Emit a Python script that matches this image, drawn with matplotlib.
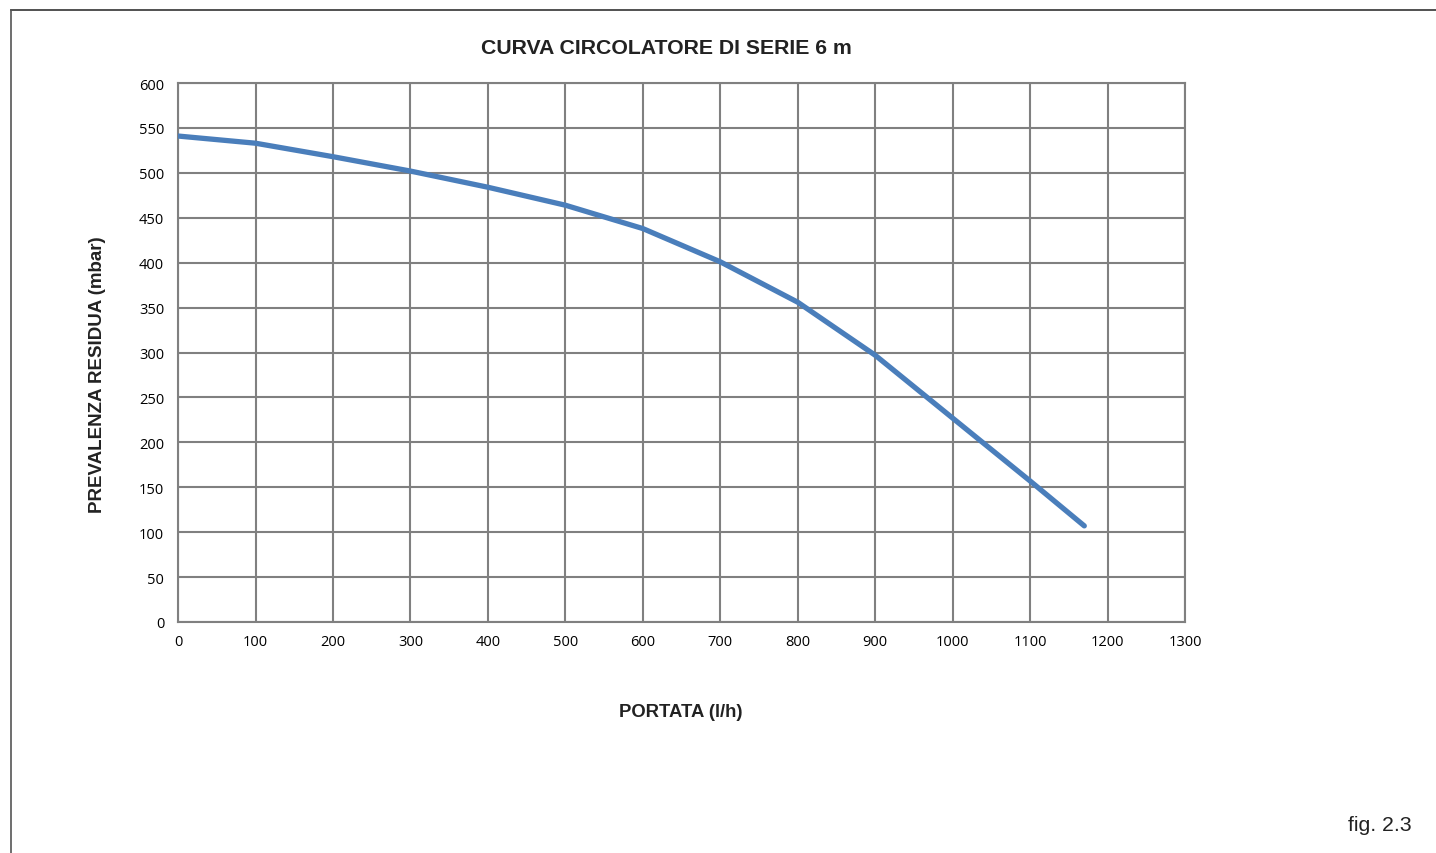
import matplotlib
matplotlib.use('Agg')
import matplotlib.pyplot as plt
from matplotlib.lines import Line2D

portata = [0, 100, 200, 300, 400, 500, 600, 700, 800, 900, 1000, 1100, 1170]
prevalenza = [541, 533, 518, 502, 484, 464, 438, 401, 356, 297, 227, 157, 107]

x_ticks = list(range(0, 1301, 100))
y_ticks = list(range(0, 601, 50))

fig = plt.figure(figsize=(14.36, 8.54), dpi=100)
ax = fig.add_axes([0.124, 0.2705, 0.7012, 0.6311])

grid_col = '#808080'
ax.plot(portata, prevalenza, color='#4a7ebb', linewidth=3.8, solid_capstyle='round', zorder=3)

ax.set_xlim(0, 1300)
ax.set_ylim(0, 600)
ax.set_xticks(x_ticks)
ax.set_yticks(y_ticks)
ax.grid(True, color=grid_col, linewidth=1.5)
for s in ax.spines.values():
    s.set_color(grid_col)
    s.set_linewidth(1.5)
ax.tick_params(length=0, labelsize=10.5, colors='black')
ax.tick_params(axis='y', pad=10)
ax.tick_params(axis='x', pad=9)
for lab in ax.get_xticklabels() + ax.get_yticklabels():
    lab.set_family('Open Sans')

fig.text(0.4638, 0.943, 'CURVA CIRCOLATORE DI SERIE 6 m', ha='center', va='center',
         fontsize=15.3, fontweight='bold', family='Liberation Sans', color='#222222')
fig.text(0.474, 0.166, 'PORTATA (l/h)', ha='center', va='center',
         fontsize=13.3, fontweight='bold', family='Liberation Sans', color='#222222')
fig.text(0.068, 0.561, 'PREVALENZA RESIDUA (mbar)', ha='center', va='center', rotation=90,
         fontsize=13.5, fontweight='bold', family='Liberation Sans', color='#222222')
fig.text(0.961, 0.033, 'fig. 2.3', ha='center', va='center',
         fontsize=15.3, family='Liberation Sans', color='#222222')

# frame: top and left edges
fig.add_artist(Line2D([11 / 1436, 1.0], [1 - 11 / 854, 1 - 11 / 854], color='#333333', linewidth=1.2))
fig.add_artist(Line2D([11 / 1436, 11 / 1436], [0.0, 1 - 11 / 854], color='#555555', linewidth=1.2))

fig.savefig('out.png', dpi=100)
